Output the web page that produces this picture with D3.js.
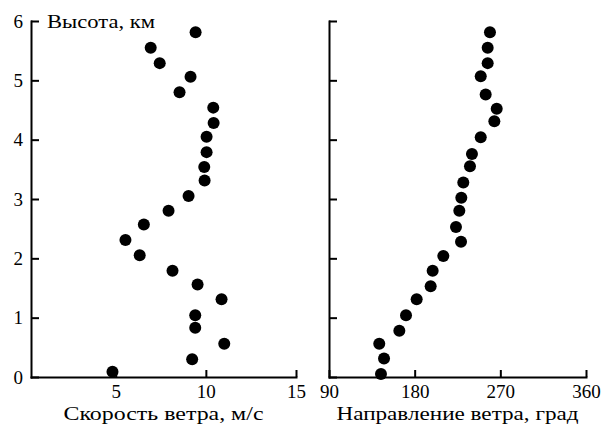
<!DOCTYPE html>
<html lang="ru">
<head>
  <meta charset="utf-8">
  <title>Профиль ветра</title>
  <script src="https://d3js.org/d3.v7.min.js"></script>
  <style>
    body { margin: 0; background: #fff; }
    text { font-family: 'Liberation Serif', serif; fill: #000; }
  </style>
</head>
<body>
<script>
// wind speed panel (m/s vs km)
var speedVals = [9.43, 6.94, 7.44, 9.15, 8.54, 10.41, 10.43, 10.04, 10.04, 9.91, 9.93, 9.04,
                 7.93, 6.56, 5.54, 6.33, 8.15, 9.54, 10.87, 9.41, 9.41, 11.02, 9.24, 4.82];
var speedHeights = [5.81, 5.55, 5.29, 5.06, 4.80, 4.54, 4.28, 4.05, 3.79, 3.54, 3.31, 3.05,
                    2.80, 2.57, 2.31, 2.05, 1.79, 1.56, 1.31, 1.04, 0.83, 0.56, 0.30, 0.09];

// wind direction panel (deg vs km)
var dirVals = [259.1, 256.7, 256.7, 249.4, 254.6, 266.2, 263.7, 249.4, 240.2, 238.1, 231.1, 229.0,
               226.9, 223.4, 228.7, 210.1, 198.9, 196.8, 182.1, 170.9, 163.9, 142.8, 147.8, 144.6];
var dirHeights = [5.81, 5.55, 5.29, 5.07, 4.76, 4.52, 4.31, 4.04, 3.76, 3.55, 3.28, 3.02,
                  2.80, 2.53, 2.28, 2.04, 1.79, 1.53, 1.31, 1.04, 0.78, 0.56, 0.31, 0.05];

var heightTicks = [0, 1, 2, 3, 4, 5, 6];
var speedTicks = [5, 10, 15];
var dirTicks = [90, 180, 270, 360];

var w = 606, h = 426;
var fs = 18;

var svg = d3.select('body').append('svg')
  .attr('width', w)
  .attr('height', h);

var y = d3.scaleLinear().domain([0, 6]).range([377, 21]);

function panel(xScale, xTicks, yLabels, vals, heights, xTitle, titleLen) {
  var g = svg.append('g');

  var xAxis = d3.axisBottom(xScale)
    .tickValues(xTicks)
    .tickSizeInner(-7)
    .tickSizeOuter(0)
    .tickPadding(8);
  var yAxis = d3.axisLeft(y)
    .tickValues(heightTicks)
    .tickSizeInner(-8)
    .tickSizeOuter(0)
    .tickPadding(8)
    .tickFormat(yLabels ? d3.format('d') : function() { return ''; });

  var gx = g.append('g').attr('transform', 'translate(0,' + y(0) + ')').call(xAxis);
  var gy = g.append('g').attr('transform', 'translate(' + xScale.range()[0] + ',0)').call(yAxis);

  [gx, gy].forEach(function(a) {
    a.selectAll('path, line').attr('stroke', '#000').attr('stroke-width', 2);
    a.selectAll('text').attr('font-size', 19).attr('font-family', "'Liberation Serif', serif");
  });
  // square off the corner and the axis ends
  gy.select('path').attr('stroke-linecap', 'square');
  gx.select('path').attr('stroke-linecap', 'square');

  g.selectAll('circle')
    .data(vals)
    .enter()
    .append('circle')
    .attr('cx', function(d) { return xScale(d); })
    .attr('cy', function(d, i) { return y(heights[i]); })
    .attr('r', 6)
    .attr('fill', '#000');

  var r = xScale.range();
  g.append('text')
    .attr('x', (r[0] + r[1]) / 2)
    .attr('y', 420)
    .attr('text-anchor', 'middle')
    .attr('font-size', fs)
    .attr('textLength', titleLen)
    .attr('lengthAdjust', 'spacingAndGlyphs')
    .text(xTitle);
}

var xSpeed = d3.scaleLinear().domain([0.3, 15]).range([31, 296]);
var xDir = d3.scaleLinear().domain([90, 360]).range([329, 586]);

panel(xSpeed, speedTicks, true, speedVals, speedHeights, 'Скорость ветра, м/с', 200);
panel(xDir, dirTicks, false, dirVals, dirHeights, 'Направление ветра, град', 242);

svg.append('text')
  .attr('x', 47)
  .attr('y', 28)
  .attr('font-size', 19)
  .attr('textLength', 108)
  .attr('lengthAdjust', 'spacingAndGlyphs')
  .text('Высота, км');
</script>
</body>
</html>
